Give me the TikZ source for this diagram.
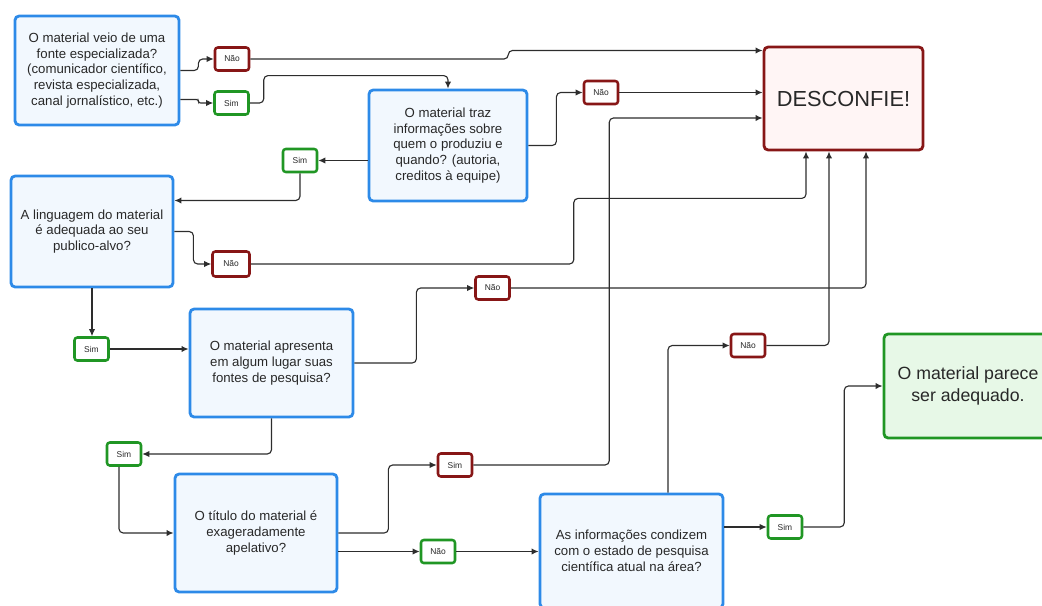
\documentclass[tikz,border=0pt]{standalone}
\usepackage{fontspec}
\setmainfont{Liberation Sans}
\usepackage{xcolor}
\usetikzlibrary{arrows.meta,calc}
\definecolor{perguntaazul}{RGB}{45, 138, 232}
\definecolor{perguntafundo}{RGB}{242, 248, 254}
\definecolor{naovermelho}{RGB}{135, 22, 22}
\definecolor{simverde}{RGB}{32, 150, 36}
\definecolor{finalfundo}{RGB}{231, 248, 231}
\definecolor{desconfiefundo}{RGB}{255, 245, 245}
\definecolor{linhacinza}{RGB}{45, 45, 45}
\definecolor{textocinza}{RGB}{40, 40, 40}

\begin{document}
\begin{tikzpicture}[x=0.025cm, y=-0.025cm,
  pergunta/.style={draw=perguntaazul, line width=2pt, rounded corners=3pt, fill=perguntafundo, align=center, text=textocinza, font=\fontsize{9.4}{11.2}\selectfont},
  nao/.style={draw=naovermelho, line width=1.8pt, rounded corners=2pt, fill=white, minimum width=0.85cm, minimum height=0.575cm, inner sep=0pt, text=textocinza, font=\fontsize{6}{7}\selectfont},
  sim/.style={nao, draw=simverde},
  liga/.style={draw=linhacinza, line width=0.8pt, rounded corners=3pt, -{Latex[length=5pt,width=4.5pt]}}]
\useasboundingbox (0,0) rectangle (1042,606);
\clip (0,0) rectangle (1042,606);

\node[pergunta, minimum width=4.1cm, minimum height=2.725cm] (q1) at (97,70.5) {O material veio de uma\\fonte especializada?\\(comunicador científico,\\revista especializada,\\canal jornalístico, etc.)};
\node[pergunta, minimum width=3.95cm, minimum height=2.775cm] (q2) at (448,145.5) {O material traz\\informações sobre\\quem o produziu e\\quando? (autoria,\\creditos à equipe)};
\node[pergunta, minimum width=4.05cm, minimum height=2.775cm] (q3) at (92,231.5) {A linguagem do material\\é adequada ao seu\\publico-alvo?};
\node[pergunta, minimum width=4.075cm, minimum height=2.7cm] (q4) at (271.5,363) {O material apresenta\\em algum lugar suas\\fontes de pesquisa?};
\node[pergunta, minimum width=4.05cm, minimum height=2.95cm] (q5) at (256,533) {O título do material é\\exageradamente\\apelativo?};
\node[pergunta, minimum width=4.575cm, minimum height=2.85cm] (q6) at (631.5,551) {As informações condizem\\com o estado de pesquisa\\científica atual na área?};
\node[pergunta, draw=naovermelho, fill=desconfiefundo, minimum width=3.975cm, minimum height=2.575cm, font=\fontsize{15.5}{18}\selectfont] (desc) at (843.5,98.5) {DESCONFIE!};
\node[pergunta, draw=simverde, fill=finalfundo, minimum width=4.2cm, minimum height=2.6cm, font=\fontsize{12.6}{15.6}\selectfont] (final) at (968,386) {O material parece\\ser adequado.};

\node[nao] (nao1) at (232,59) {Não};
\node[sim] (sim1) at (231.5,103) {Sim};
\node[nao] (nao2) at (601,92.5) {Não};
\node[sim] (sim2) at (300,160.5) {Sim};
\node[nao, minimum width=0.925cm, minimum height=0.625cm] (nao3) at (231,264) {Não};
\node[nao] (nao4) at (492.5,288) {Não};
\node[sim] (sim3) at (91.5,349) {Sim};
\node[sim] (sim4) at (124,454) {Sim};
\node[nao] (nao5) at (748,345.5) {Não};
\node[nao] (sim5) at (455,465) {Sim};
\node[sim] (nao6) at (438,551.5) {Não};
\node[sim] (sim6) at (785,527) {Sim};

\draw[liga] (q1.east) -- ++(18,0) |- (nao1.west);
\draw[liga, rounded corners=1.5pt] ($(q1.east)+(0,29)$) -- ++(18,0) |- (sim1.west);
\draw[liga] (nao1.east) -- ++(258,0) |- ($(desc.west)+(0,-48)$);
\draw[liga] (sim1.east) -- ++(14,0) |- ($(q2.north)+(0,-13)$) -- (q2.north);
\draw[liga] (q2.east) -- ++(28,0) |- (nao2.west);
\draw[liga] (nao2.east) -- (nao2.east -| desc.west);
\draw[liga] (q2.west |- sim2) -- (sim2.east);
\draw[liga] (sim2.south) |- ($(q3.east)+(0,-31)$);
\draw[liga] (q3.east) -- ++(19,0) |- (nao3.west);
\draw[liga] (nao3.east) -- ++(323,0) |- ($(desc.south)+(-37.5,47)$) -- ($(desc.south)+(-37.5,0)$);
\draw[liga] (nao4.east) -| ($(desc.south)+(22.5,0)$);
\draw[liga] (q3.south) -- (q3.south |- sim3.north);
\draw[liga] (sim3.east) -- (sim3.east -| q4.west);
\draw[liga] (q4.east) -- ++(62,0) |- (nao4.west);
\draw[liga] (q4.south) |- (sim4.east);
\draw[liga] ($(sim4.south)+(-5,0)$) |- (q5.west);
\draw[liga] (q5.east) -- ++(50,0) |- (sim5.west);
\draw[liga] (sim5.east) -- ++(136,0) |- ($(desc.west)+(0,19.5)$);
\draw[liga] (q5.east |- nao6) -- (nao6.west);
\draw[liga] (nao6.east) -- (nao6.east -| q6.west);
\draw[liga] ($(q6.north)+(36.5,0)$) |- (nao5.west);
\draw[liga] (nao5.east) -| ($(desc.south)+(-14.5,0)$);
\draw[liga] (q6.east |- sim6) -- (sim6.west);
\draw[liga] (sim6.east) -- ++(41,0) |- (final.west);
\end{tikzpicture}
\end{document}
